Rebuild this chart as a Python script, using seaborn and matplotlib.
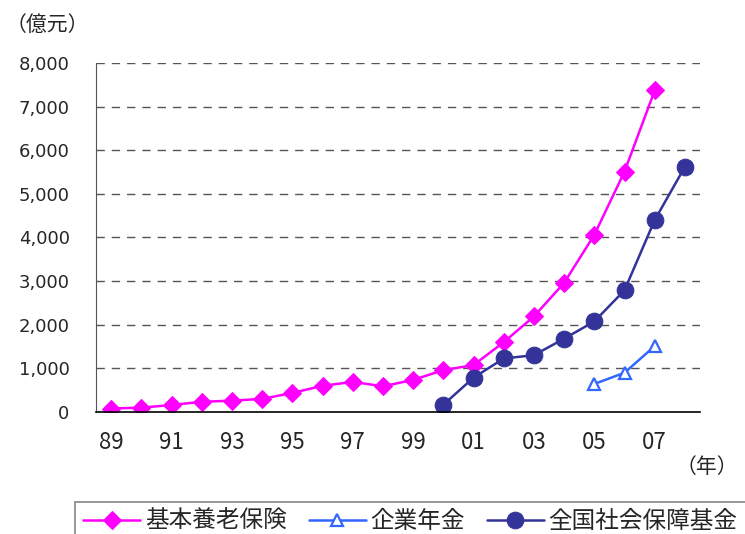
import numpy as np
import pandas as pd
import seaborn as sns
import matplotlib.pyplot as plt

# data (億元)
years = list(range(1989, 2009))
basic_pension = [80, 100, 160, 234, 260, 300, 437, 600, 690, 590, 735,
                 960, 1075, 1600, 2190, 2960, 4060, 5510, 7370, np.nan]
enterprise_annuity = [np.nan] * 16 + [643, 900, 1510, np.nan]
ssf = [np.nan] * 11 + [166, 786, 1227, 1302, 1680, 2075, 2790, 4400, 5620]

series_names = ['基本養老保険', '企業年金', '全国社会保障基金']
series_values = [basic_pension, enterprise_annuity, ssf]
tick_years = list(range(1989, 2008, 2))
tick_labels = [f'{y % 100:02d}' for y in tick_years]
y_ticks = list(range(0, 8001, 1000))

sns.set_style('white')
plt.rcParams['font.family'] = ['Noto Sans CJK JP', 'DejaVu Sans']

fig = plt.figure(figsize=(7.45, 5.34), dpi=100)
ax = fig.add_axes([96 / 745, 1 - 412 / 534, (700 - 96) / 745, (412 - 63) / 534])

styles = {
    '基本養老保険': dict(color='#FF00FF', marker='D', markersize=9.5, lw=1.8,
                   markeredgecolor='#FF00FF'),
    '企業年金': dict(color='#3366FF', marker='^', markersize=9, lw=1.8,
                 markerfacecolor='white', markeredgecolor='#3366FF', markeredgewidth=1.6),
    '全国社会保障基金': dict(color='#333399', marker='o', markersize=12, lw=1.8,
                     markeredgecolor='#333399'),
}

for name, vals in zip(series_names, series_values):
    d = pd.DataFrame({'year': years, 'value': vals}).dropna()
    sns.lineplot(data=d, x='year', y='value', ax=ax, label=name, **styles[name])

ax.set_xlim(1988.5, 2008.5)
ax.set_ylim(0, 8000)
ax.set_yticks(y_ticks)
ax.set_yticklabels([f'{v:,}' for v in y_ticks], fontsize=13, family='DejaVu Sans')
ax.set_xticks(tick_years)
ax.set_xticklabels(tick_labels, fontsize=16)
ax.set_xlabel('')
ax.set_ylabel('')
ax.tick_params(axis='y', length=3, width=1, color='#555555', direction='out', pad=16)
ax.tick_params(axis='x', length=0, pad=14)

for v in y_ticks[1:]:
    ax.axhline(v, color='#555555', lw=1, ls=(0, (6, 5)), zorder=0)

for s in ['top', 'right']:
    ax.spines[s].set_visible(False)
ax.spines['left'].set_color('#555555')
ax.spines['bottom'].set_color('black')
ax.spines['bottom'].set_linewidth(1.2)

ax.get_legend().remove()
handles, labels = ax.get_legend_handles_labels()
leg = fig.legend(handles, labels, loc='upper left', bbox_to_anchor=(75 / 745, 1 - 502 / 534),
                 ncol=3, fontsize=17, frameon=True, fancybox=False, handlelength=2.4,
                 columnspacing=0.95, handletextpad=0.2, borderpad=0.35, borderaxespad=0)
leg.get_frame().set_edgecolor('#666666')
leg.get_frame().set_linewidth(1.2)

fig.text(6 / 745, 1 - 25 / 534, '（億元）', fontsize=15, va='center', ha='left')
fig.text(738 / 745, 1 - 467 / 534, '（年）', fontsize=15, va='center', ha='right')

fig.savefig('out.png', dpi=100)
